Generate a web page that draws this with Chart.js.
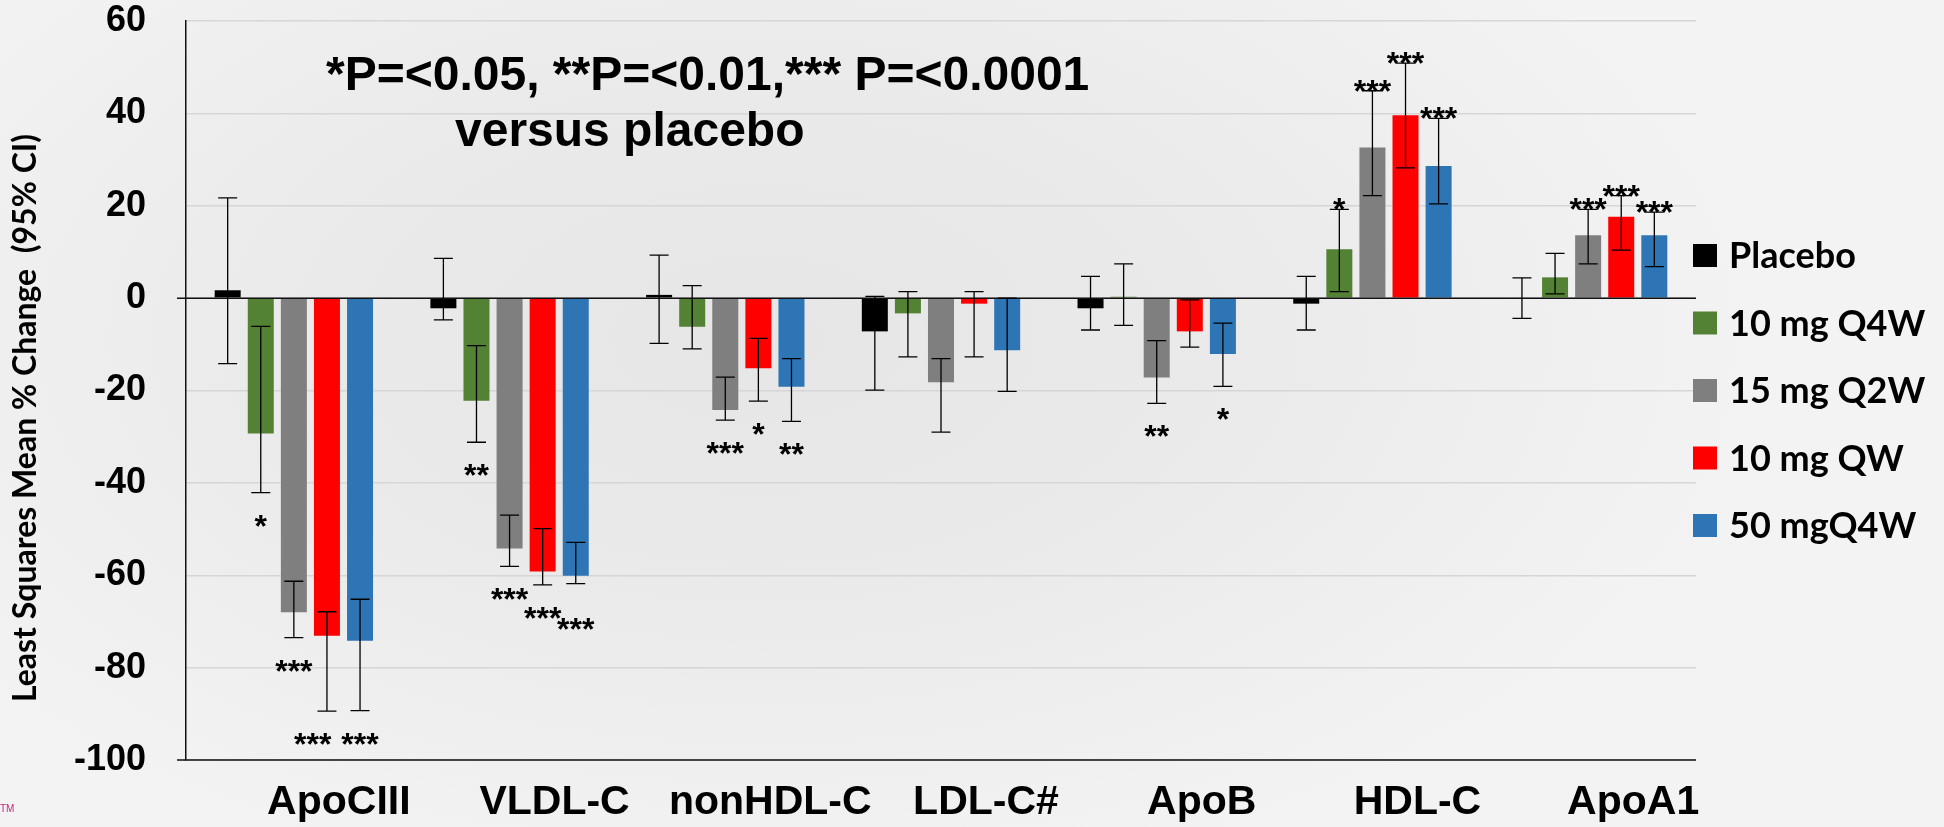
<!DOCTYPE html>
<html lang="en">
<head>
<meta charset="utf-8">
<title>Least Squares Mean % Change vs placebo</title>
<script src="https://cdn.jsdelivr.net/npm/chart.js@4.4.1/dist/chart.umd.min.js"></script>
<style>
  html, body { margin: 0; padding: 0; }
  body {
    width: 1944px;
    height: 827px;
    overflow: hidden;
    background: radial-gradient(ellipse 1000px 560px at 760px 340px, #e6e6e7 0%, #eaeaeb 45%, #f3f3f3 100%);
  }
  #wrap { position: relative; width: 1944px; height: 827px; }
</style>
</head>
<body>
<div id="wrap"><canvas id="lipidChart" width="1944" height="827"></canvas></div>
<script>
// ─── Data ───────────────────────────────────────────────────────────────────
const CATEGORIES = ['ApoCIII', 'VLDL-C', 'nonHDL-C', 'LDL-C#', 'ApoB', 'HDL-C', 'ApoA1'];
const SERIES_NAMES = ['Placebo', '10 mg Q4W', '15 mg Q2W', '10 mg QW', '50 mgQ4W'];
const Y_TICKS = [60, 40, 20, 0, -20, -40, -60, -80, -100];

// LS mean % change
const PLACEBO   = [1.7, -2.2, 0.7, -7.2, -2.2, -1.2, 0];
const Q4W_10    = [-29.3, -22.2, -6.2, -3.3, 0.3, 10.6, 4.5];
const Q2W_15    = [-68.0, -54.2, -24.2, -18.2, -17.2, 32.6, 13.6];
const QW_10     = [-73.1, -59.2, -15.2, -1.2, -7.2, 39.6, 17.6];
const Q4W_50    = [-74.2, -60.1, -19.2, -11.3, -12.1, 28.6, 13.6];

// 95% CI, lower / upper
const PLACEBO_LO = [-14.2, -4.7, -9.8, -19.9, -6.9, -6.9, -4.4];
const PLACEBO_HI = [21.7, 8.6, 9.3, 0.4, 4.7, 4.7, 4.4];
const Q4W_10_LO  = [-42.1, -31.2, -11.0, -12.7, -5.9, 1.4, 0.9];
const Q4W_10_HI  = [-6.1, -10.3, 2.7, 1.4, 7.4, 19.2, 9.7];
const Q2W_15_LO  = [-73.5, -58.1, -26.4, -29.0, -22.8, 22.2, 7.4];
const Q2W_15_HI  = [-61.3, -47.0, -17.1, -13.1, -9.2, 44.9, 19.2];
const QW_10_LO   = [-89.4, -62.1, -22.3, -12.7, -10.6, 28.2, 10.4];
const QW_10_HI   = [-67.9, -49.9, -8.7, 1.4, -0.4, 50.9, 22.2];
const Q4W_50_LO  = [-89.3, -61.8, -26.7, -20.2, -19.1, 20.4, 6.8];
const Q4W_50_HI  = [-65.2, -52.9, -13.1, 0, -5.4, 38.9, 18.6];

// significance versus placebo
const PLACEBO_SIG = ['', '', '', '', '', '', ''];
const Q4W_10_SIG  = ['*', '**', '', '', '', '*', ''];
const Q2W_15_SIG  = ['***', '***', '***', '', '**', '***', '***'];
const QW_10_SIG   = ['***', '***', '*', '', '', '***', '***'];
const Q4W_50_SIG  = ['***', '***', '**', '', '*', '***', '***'];

const SERIES_COLORS = ['#000000', '#548235', '#7f7f7f', '#ff0000', '#2e75b6'];

const BOLD_SANS = '"Liberation Sans", Arial, sans-serif';
const BOLD_HUMANIST = 'Lato, "Open Sans", sans-serif';
const STAR_SIZE = 32;

// ─── Star placement: below the CI for drops, above it for rises ─────────────
function layoutStars(chart) {
  const { ctx, chartArea: area, scales: { y } } = chart;
  const inkH = STAR_SIZE * 0.3;
  const labels = [];
  chart.data.datasets.forEach((ds, di) => {
    chart.getDatasetMeta(di).data.forEach((bar, i) => {
      const text = ds.stars[i];
      if (!text) return;
      const down = ds.data[i] < 0;
      const yPos = down
        ? y.getPixelForValue(ds.ciLow[i]) + 44
        : y.getPixelForValue(ds.ciHigh[i]) + 11;
      labels.push({ text, cat: i, x: bar.x, y: yPos, w: ctx.measureText(text).width, down });
    });
  });

  // nudge neighbours in the same group that would run together:
  // step down when there is room, otherwise slide the earlier one left
  labels.forEach((a, k) => {
    labels.slice(0, k).forEach(b => {
      if (a.cat !== b.cat) return;
      const overlapX = (a.w + b.w) / 2 + 6 - Math.abs(a.x - b.x);
      const overlapY = inkH + 4 - Math.abs(a.y - b.y);
      if (overlapX <= 0 || overlapY <= 0) return;
      const step = a.down ? overlapY : -overlapY;
      const inkBottom = a.y + step - STAR_SIZE * 0.43;
      if (inkBottom < area.bottom - 24) a.y += step;
      else b.x -= overlapX + 4;
    });
  });
  return labels;
}

// ─── Overlays: zero line, error bars, stars, legend, titles ─────────────────
const overlayPlugin = {
  id: 'overlay',
  afterDatasetsDraw(chart) {
    const { ctx, chartArea: area, scales: { y } } = chart;
    ctx.save();

    // zero line and bottom axis run a little past the y axis
    ctx.strokeStyle = '#111';
    ctx.lineWidth = 1.5;
    [0, -100].forEach(v => {
      const py = y.getPixelForValue(v);
      ctx.beginPath();
      ctx.moveTo(area.left - 9, py);
      ctx.lineTo(area.right, py);
      ctx.stroke();
    });

    // error bars
    ctx.strokeStyle = '#000';
    ctx.lineWidth = 1.3;
    chart.data.datasets.forEach((ds, di) => {
      chart.getDatasetMeta(di).data.forEach((bar, i) => {
        const lo = y.getPixelForValue(ds.ciLow[i]);
        const hi = y.getPixelForValue(ds.ciHigh[i]);
        const x = bar.x;
        const cap = 9.5;
        ctx.beginPath();
        ctx.moveTo(x, hi); ctx.lineTo(x, lo);
        ctx.moveTo(x - cap, hi); ctx.lineTo(x + cap, hi);
        ctx.moveTo(x - cap, lo); ctx.lineTo(x + cap, lo);
        ctx.stroke();
      });
    });

    // significance stars
    ctx.font = 'bold ' + STAR_SIZE + 'px ' + BOLD_SANS;
    ctx.textAlign = 'center';
    ctx.textBaseline = 'alphabetic';
    ctx.fillStyle = '#000';
    layoutStars(chart).forEach(s => ctx.fillText(s.text, s.x, s.y));

    // p-value note
    ctx.textAlign = 'left';
    ctx.font = 'bold 48px ' + BOLD_SANS;
    ctx.fillText('*P=<0.05, **P=<0.01,*** P=<0.0001', area.left + 140, area.top + 69);
    ctx.fillText('versus placebo', area.left + 269, area.top + 125);

    // legend
    const midY = (area.top + area.bottom) / 2;
    ctx.font = 'bold 36px ' + BOLD_HUMANIST;
    ctx.textBaseline = 'middle';
    SERIES_NAMES.forEach((name, i) => {
      const cy = midY + (i - 2) * 67.5;
      ctx.fillStyle = SERIES_COLORS[i];
      ctx.fillRect(area.right - 3, cy - 11.5, 24, 23);
      ctx.fillStyle = '#000';
      ctx.fillText(name, area.right + 33, cy + 1);
    });

    // y axis title
    ctx.save();
    ctx.translate(26, 418);
    ctx.rotate(-Math.PI / 2);
    ctx.textAlign = 'center';
    ctx.font = 'bold 32px ' + BOLD_HUMANIST;
    ctx.fillText('Least Squares Mean % Change  (95% CI)', 0, 0);
    ctx.restore();

    // trademark mark, bottom left
    ctx.font = '10px ' + BOLD_SANS;
    ctx.fillStyle = '#c0287a';
    ctx.textAlign = 'left';
    ctx.fillText('TM', 0, 809);

    ctx.restore();
  },
};

// ─── Chart ──────────────────────────────────────────────────────────────────
function renderLipidChart() {
  const ctx = document.getElementById('lipidChart');
  const values = [PLACEBO, Q4W_10, Q2W_15, QW_10, Q4W_50];
  const lows = [PLACEBO_LO, Q4W_10_LO, Q2W_15_LO, QW_10_LO, Q4W_50_LO];
  const highs = [PLACEBO_HI, Q4W_10_HI, Q2W_15_HI, QW_10_HI, Q4W_50_HI];
  const sigs = [PLACEBO_SIG, Q4W_10_SIG, Q2W_15_SIG, QW_10_SIG, Q4W_50_SIG];

  new Chart(ctx, {
    type: 'bar',
    data: {
      labels: CATEGORIES,
      datasets: SERIES_NAMES.map((name, i) => ({
        label: name,
        data: values[i],
        ciLow: lows[i],
        ciHigh: highs[i],
        stars: sigs[i],
        backgroundColor: SERIES_COLORS[i],
        borderWidth: 0,
        categoryPercentage: 0.767,
        barPercentage: 0.786,
      })),
    },
    options: {
      responsive: false,
      animation: false,
      layout: { padding: { top: 21, right: 248, left: 0, bottom: 0 } },
      plugins: {
        legend: { display: false },
        tooltip: { enabled: false },
      },
      scales: {
        x: {
          grid: { display: false, drawTicks: false },
          border: { display: false },
          ticks: {
            color: '#000',
            padding: 18,
            labelOffset: 45,
            maxRotation: 0,
            autoSkip: false,
            font: { family: BOLD_SANS, size: 41, weight: 'bold' },
          },
          afterFit: s => { s.height = 67; },
        },
        y: {
          min: Y_TICKS[Y_TICKS.length - 1],
          max: Y_TICKS[0],
          afterBuildTicks: s => { s.ticks = Y_TICKS.map(v => ({ value: v })); },
          ticks: {
            color: '#000',
            padding: 40,
            font: { family: BOLD_SANS, size: 36, weight: 'bold' },
          },
          grid: { color: '#d6d6d6', lineWidth: 1.5, drawTicks: false },
          border: { display: true, color: '#111', width: 1.5 },
          afterFit: s => {
            s.width = 186;
            s.paddingTop = 0;
            s.paddingBottom = 0;
          },
        },
      },
    },
    plugins: [overlayPlugin],
  });
}

renderLipidChart();
</script>
</body>
</html>
